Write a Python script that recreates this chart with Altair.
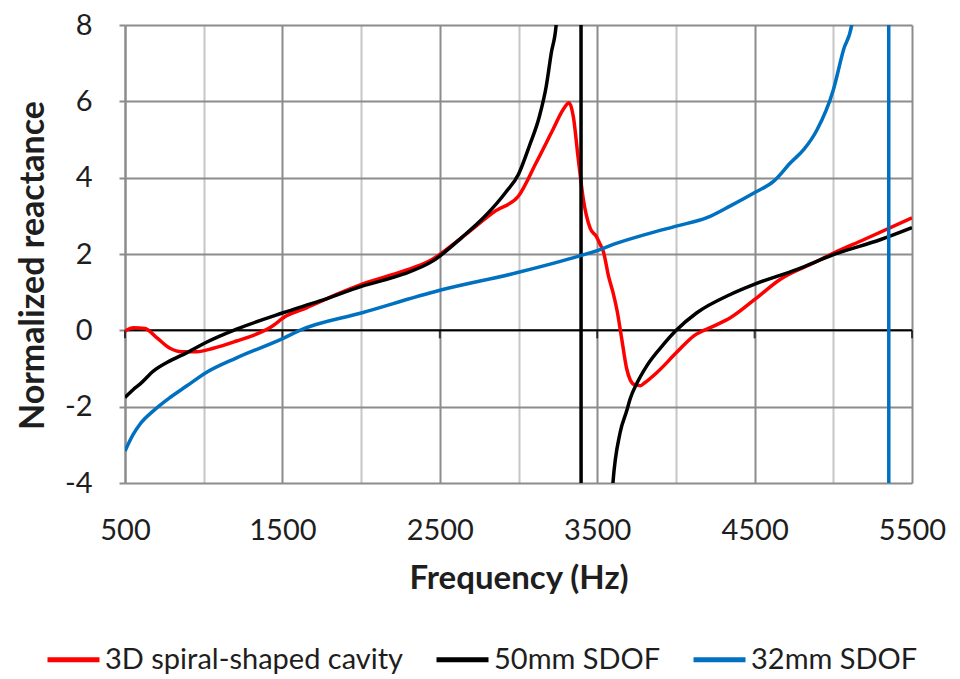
import altair as alt
import pandas as pd

# ---------------- data ----------------
series_names = ["3D spiral-shaped cavity", "50mm SDOF", "32mm SDOF"]
series_colors = ["#FF0000", "#000000", "#0070C0"]

red_f = [500, 553, 627, 701, 786, 860, 955, 1061, 1209, 1357, 1420, 1526, 1653, 1844,
         2007, 2267, 2436, 2639, 2854, 3000, 3112, 3219, 3283, 3322, 3348, 3380, 3412,
         3455, 3496, 3519, 3538, 3573, 3600, 3627, 3655, 3687, 3710, 3740, 3775, 3800,
         3878, 4002, 4112, 4240, 4346, 4501, 4664, 4877, 5005, 5196, 5500]
red_v = [-0.02, 0.07, 0.05, -0.19, -0.47, -0.56, -0.56, -0.47, -0.28, -0.06, 0.07, 0.38,
         0.59, 0.94, 1.21, 1.55, 1.82, 2.43, 3.13, 3.52, 4.39, 5.26, 5.78, 5.96, 5.61,
         4.48, 3.43, 2.68, 2.45, 2.25, 2.08, 1.4, 1.0, 0.5, -0.2, -1.0, -1.3, -1.43,
         -1.45, -1.38, -1.11, -0.59, -0.15, 0.11, 0.33, 0.81, 1.34, 1.77, 2.03, 2.38, 2.95]

black_f = [500, 553, 595, 680, 786, 891, 1014, 1209, 1505, 1738, 2007, 2267, 2457, 2639,
           2790, 2918, 3000, 3069, 3133, 3176, 3208, 3240, 3260, 3395, 3400, 3590, 3600,
           3645, 3689, 3708, 3753, 3815, 3921, 4002, 4133, 4346, 4501, 4771, 5005, 5302, 5500]
black_v = [-1.76, -1.55, -1.41, -1.07, -0.8, -0.59, -0.32, 0.03, 0.46, 0.77, 1.16, 1.47,
           1.82, 2.43, 3.0, 3.61, 4.09, 4.83, 5.61, 6.39, 7.26, 8.04, 9.5, 100, -100,
           -4.6, -4.0, -2.69, -2.09, -1.81, -1.38, -0.93, -0.37, 0.0, 0.46, 0.94, 1.21,
           1.6, 1.99, 2.38, 2.69]

blue_f = [500, 553, 595, 680, 786, 891, 1014, 1209, 1505, 1611, 2007, 2500, 3000, 3389,
          3500, 3602, 3815, 4002, 4197, 4346, 4501, 4622, 4728, 4813, 4896, 5000, 5065,
          5119, 5200, 5345, 5360, 5500]
blue_v = [-3.16, -2.72, -2.46, -2.11, -1.76, -1.46, -1.11, -0.72, -0.21, 0.0, 0.46, 1.05,
          1.52, 1.95, 2.09, 2.25, 2.52, 2.73, 2.95, 3.26, 3.61, 3.91, 4.39, 4.74, 5.25,
          6.3, 7.35, 8.05, 12, 200, -200, -10]

x_grid_values = [500, 1000, 1500, 2000, 2500, 3000, 3500, 4000, 4500, 5000, 5500]
x_major_ticks = [500, 1500, 2500, 3500, 4500, 5500]
y_values = [-4, -2, 0, 2, 4, 6, 8]

# ---------------- tables ----------------
rows = []
for name, fs, vs in zip(series_names, [red_f, black_f, blue_f], [red_v, black_v, blue_v]):
    for i, (f, v) in enumerate(zip(fs, vs)):
        rows.append({"series": name, "f": f, "v": v, "i": i})
df = pd.DataFrame(rows)
zero_df = pd.DataFrame({"v": [0]})
tick_df = pd.DataFrame({"f": x_major_ticks, "v": [0] * len(x_major_ticks)})

FONT = "Lato"
TXT = "#1e1e1e"
GRID_DARK = "#8c8c8c"
GRID_LIGHT = "#c6c6c6"

x_scale = alt.Scale(domain=[500, 5500], nice=False, zero=False)
y_scale = alt.Scale(domain=[-4, 8], nice=False, zero=False)

x_axis = alt.Axis(
    values=x_grid_values, format="d",
    grid=True, gridWidth=2,
    gridColor={"condition": {"test": "datum.value % 1000 == 500", "value": GRID_DARK},
               "value": GRID_LIGHT},
    domain=False, ticks=False, tickSize=0,
    labelExpr="datum.value % 1000 == 500 ? '' + datum.value : ''",
    labelFont=FONT, labelFontSize=29, labelColor=TXT, labelPadding=47,
    labelBaseline="middle", labelFlush=False, labelOverlap=False,
    title="Frequency (Hz)", titleFont=FONT, titleFontSize=33, titleFontWeight="bold",
    titleColor=TXT, titleX=393.5, titleY=95, titleAlign="center", titleBaseline="middle",
)
y_axis = alt.Axis(
    values=y_values, grid=True, gridWidth=2, gridColor=GRID_DARK,
    domain=True, domainColor=GRID_DARK, domainWidth=2,
    ticks=True, tickColor=GRID_DARK, tickWidth=2, tickSize=6,
    labelExpr="'' + datum.value",
    labelFont=FONT, labelFontSize=29, labelColor=TXT, labelPadding=27,
    title="Normalized reactance", titleFont=FONT, titleFontSize=34, titleFontWeight="bold",
    titleColor=TXT, titleAngle=270, titleX=-92, titleY=240, titleAlign="center",
    titleBaseline="middle",
)

legend = alt.Legend(
    orient="none", legendX=-80, legendY=606, direction="horizontal", title=None,
    symbolType="stroke", symbolSize=2704, symbolStrokeWidth=5,
    labelFont=FONT, labelFontSize=29, labelColor=TXT, labelOffset=3,
    columnPadding=22, labelLimit=600,
)

lines = alt.Chart(df).mark_line(strokeWidth=3.5, clip=True, interpolate="monotone").encode(
    x=alt.X("f:Q", scale=x_scale, axis=x_axis),
    y=alt.Y("v:Q", scale=y_scale, axis=y_axis),
    color=alt.Color("series:N", scale=alt.Scale(domain=series_names, range=series_colors),
                    legend=legend),
    order=alt.Order("i:Q"),
)

zero_line = alt.Chart(zero_df).mark_rule(color="#000000", strokeWidth=2).encode(
    y=alt.Y("v:Q", scale=y_scale),
)

zero_ticks = alt.Chart(tick_df).mark_tick(
    orient="vertical", size=8, thickness=2, color="#000000", yOffset=4
).encode(
    x=alt.X("f:Q", scale=x_scale),
    y=alt.Y("v:Q", scale=y_scale),
)

chart = alt.layer(zero_line, zero_ticks, lines).properties(
    width=787, height=458,
    autosize=alt.AutoSizeParams(type="none"),
    padding={"left": 117, "top": 17, "right": 40, "bottom": 196},
    background="white",
).configure_view(strokeWidth=0)

chart.save("out.html", embed_options={"renderer": "svg", "actions": False})
